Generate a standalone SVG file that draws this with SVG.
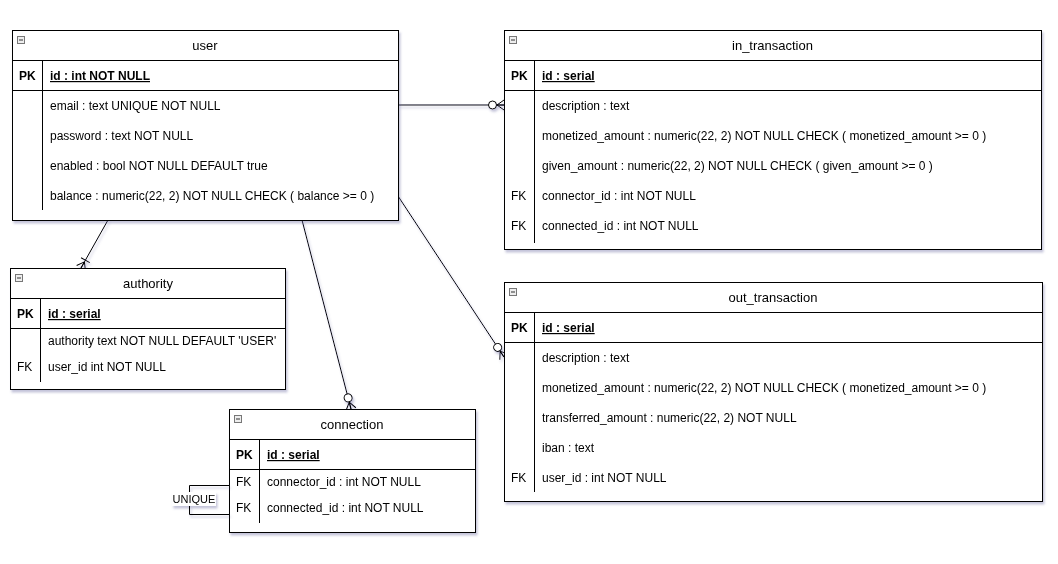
<svg xmlns="http://www.w3.org/2000/svg" width="1058" height="564" viewBox="0 0 1058 564">
<style>
text{font-family:"Liberation Sans",Arial,sans-serif;font-size:12px;fill:#000}
.t{font-size:13px;text-anchor:middle}
.pk{font-weight:bold}
.pkn{font-weight:bold;text-decoration:underline}
.box{fill:#fff;stroke:#000;stroke-width:1}
.ln{stroke:#000;stroke-width:1;fill:none}
.ic{fill:#eee;stroke:#777;stroke-width:1}
.icm{stroke:#333;stroke-width:1}
.edge{stroke:#000;stroke-width:1;fill:none}
</style>
<defs>
<filter id="sh" x="-5%" y="-5%" width="115%" height="120%">
<feDropShadow dx="1.5" dy="2.5" stdDeviation="1.3" flood-color="#6a6aa0" flood-opacity="0.4"/>
</filter>
<marker id="zm" markerUnits="userSpaceOnUse" markerWidth="30" markerHeight="20" refX="20" refY="10" orient="auto" overflow="visible">
<path d="M13,10 L20,5 M13,10 L20,10 M13,10 L20,15" stroke="#000" stroke-width="1" fill="none"/>
<circle cx="8.5" cy="10" r="4" fill="#fff" stroke="#000" stroke-width="1"/>
</marker>
<marker id="om" markerUnits="userSpaceOnUse" markerWidth="30" markerHeight="20" refX="20" refY="10" orient="auto" overflow="visible">
<path d="M13,10 L20,5 M13,10 L20,10 M13,10 L20,15 M11,5 L11,15" stroke="#000" stroke-width="1" fill="none"/>
</marker>
</defs>

<g id="connectors" filter="url(#sh)">
<path class="edge" d="M398,105 L504,105" marker-end="url(#zm)"/>
<path class="edge" d="M398,196 L504,357" marker-end="url(#zm)"/>
<path class="edge" d="M302,220 L351,409" marker-end="url(#zm)"/>
<path class="edge" d="M108,220 L81,268" marker-end="url(#om)"/>
</g>

<g id="user" filter="url(#sh)">
<rect class="box" x="12.5" y="30.5" width="386" height="190"/>
<path class="ln" d="M12.5,60.5 H398.5 M12.5,90.5 H398.5 M42.5,60.5 V210"/>
<rect class="ic" x="17.5" y="36.5" width="7" height="7"/><path class="icm" d="M19,40 H23"/>
<text class="t" x="205" y="50">user</text>
<text class="pk" x="19" y="80">PK</text>
<text class="pkn" x="50" y="80">id : int NOT NULL</text>
<text x="50" y="110">email : text UNIQUE NOT NULL</text>
<text x="50" y="140">password : text NOT NULL</text>
<text x="50" y="170">enabled : bool NOT NULL DEFAULT true</text>
<text x="50" y="200">balance : numeric(22, 2) NOT NULL CHECK ( balance &gt;= 0 )</text>
</g>

<g id="in_transaction" filter="url(#sh)">
<rect class="box" x="504.5" y="30.5" width="537" height="219"/>
<path class="ln" d="M504.5,60.5 H1041.5 M504.5,90.5 H1041.5 M534.5,60.5 V243"/>
<rect class="ic" x="509.5" y="36.5" width="7" height="7"/><path class="icm" d="M511,40 H515"/>
<text class="t" x="772.5" y="50">in_transaction</text>
<text class="pk" x="511" y="80">PK</text>
<text class="pkn" x="542" y="80">id : serial</text>
<text x="542" y="110">description : text</text>
<text x="542" y="140">monetized_amount : numeric(22, 2) NOT NULL CHECK ( monetized_amount &gt;= 0 )</text>
<text x="542" y="170">given_amount : numeric(22, 2) NOT NULL CHECK ( given_amount &gt;= 0 )</text>
<text x="511" y="200">FK</text>
<text x="542" y="200">connector_id : int NOT NULL</text>
<text x="511" y="230">FK</text>
<text x="542" y="230">connected_id : int NOT NULL</text>
</g>

<g id="authority" filter="url(#sh)">
<rect class="box" x="10.5" y="268.5" width="275" height="121"/>
<path class="ln" d="M10.5,298.5 H285.5 M10.5,328.5 H285.5 M40.5,298.5 V382"/>
<rect class="ic" x="15.5" y="274.5" width="7" height="7"/><path class="icm" d="M17,278 H21"/>
<text class="t" x="148" y="288">authority</text>
<text class="pk" x="17" y="318">PK</text>
<text class="pkn" x="48" y="318">id : serial</text>
<text x="48" y="345">authority text NOT NULL DEFAULT 'USER'</text>
<text x="17" y="371">FK</text>
<text x="48" y="371">user_id int NOT NULL</text>
</g>

<g id="connection" filter="url(#sh)">
<rect class="box" x="229.5" y="409.5" width="246" height="123"/>
<path class="ln" d="M229.5,439.5 H475.5 M229.5,469.5 H475.5 M259.5,439.5 V523"/>
<rect class="ic" x="234.5" y="415.5" width="7" height="7"/><path class="icm" d="M236,419 H240"/>
<text class="t" x="352" y="429">connection</text>
<text class="pk" x="236" y="459">PK</text>
<text class="pkn" x="267" y="459">id : serial</text>
<text x="236" y="486">FK</text>
<text x="267" y="486">connector_id : int NOT NULL</text>
<text x="236" y="512">FK</text>
<text x="267" y="512">connected_id : int NOT NULL</text>
</g>

<g id="unique" filter="url(#sh)">
<path class="ln" d="M229.5,485.5 H189.5 V514.5 H229.5"/>
<rect x="172" y="492" width="44" height="14" fill="#fff"/>
<text x="194" y="503" style="font-size:11px;text-anchor:middle">UNIQUE</text>
</g>

<g id="out_transaction" filter="url(#sh)">
<rect class="box" x="504.5" y="282.5" width="538" height="219"/>
<path class="ln" d="M504.5,312.5 H1042.5 M504.5,342.5 H1042.5 M534.5,312.5 V492"/>
<rect class="ic" x="509.5" y="288.5" width="7" height="7"/><path class="icm" d="M511,292 H515"/>
<text class="t" x="773" y="302">out_transaction</text>
<text class="pk" x="511" y="332">PK</text>
<text class="pkn" x="542" y="332">id : serial</text>
<text x="542" y="362">description : text</text>
<text x="542" y="392">monetized_amount : numeric(22, 2) NOT NULL CHECK ( monetized_amount &gt;= 0 )</text>
<text x="542" y="422">transferred_amount : numeric(22, 2) NOT NULL</text>
<text x="542" y="452">iban : text</text>
<text x="511" y="482">FK</text>
<text x="542" y="482">user_id : int NOT NULL</text>
</g>
</svg>
